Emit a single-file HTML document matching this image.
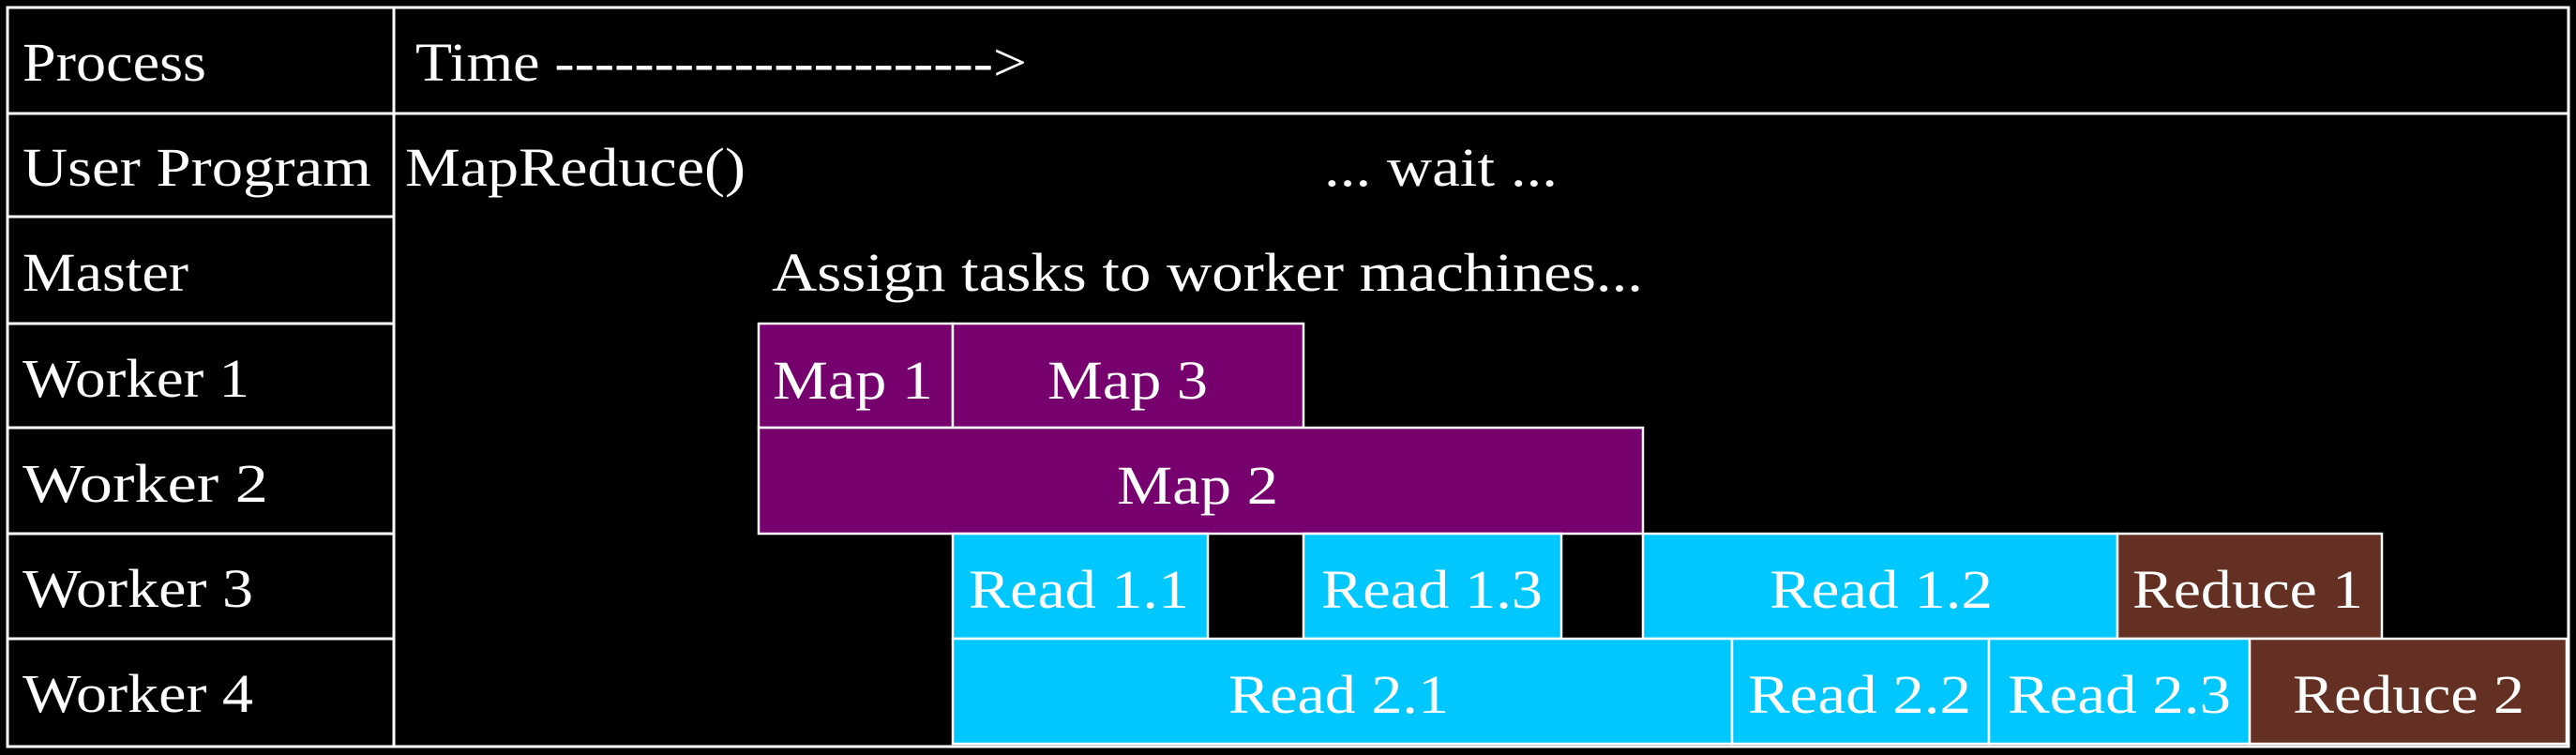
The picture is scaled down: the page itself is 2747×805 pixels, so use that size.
<!DOCTYPE html>
<html><head><meta charset="utf-8"><style>
html,body{margin:0;padding:0;background:#000;width:2747px;height:805px;overflow:hidden}
svg{display:block}
text{font-family:"Liberation Serif",serif;font-size:58px;fill:#fff}
</style></head><body>
<svg width="2747" height="805" viewBox="0 0 2747 805" xmlns="http://www.w3.org/2000/svg">
<rect x="0" y="0" width="2747" height="805" fill="#000"/>
<g stroke="#fff" stroke-width="3" fill="none">
<rect x="8" y="8" width="2731" height="788"/>
<line x1="420" y1="8" x2="420" y2="796"/>
<line x1="8" y1="121" x2="2739" y2="121"/>
<line x1="8" y1="231" x2="420" y2="231"/>
<line x1="8" y1="345" x2="420" y2="345"/>
<line x1="8" y1="456" x2="420" y2="456"/>
<line x1="8" y1="569" x2="420" y2="569"/>
<line x1="8" y1="681" x2="420" y2="681"/>
</g>
<g stroke="#fff" stroke-width="2.5">
<rect x="809" y="345" width="207" height="111" fill="#77006f"/>
<rect x="1016" y="345" width="374" height="111" fill="#77006f"/>
<rect x="809" y="456" width="943" height="113" fill="#77006f"/>
<rect x="1016" y="569" width="272" height="112" fill="#00c8ff"/>
<rect x="1390" y="569" width="275" height="112" fill="#00c8ff"/>
<rect x="1752" y="569" width="506" height="112" fill="#00c8ff"/>
<rect x="2258" y="569" width="282" height="112" fill="#633023"/>
<rect x="1016" y="681" width="831" height="112" fill="#00c8ff"/>
<rect x="1847" y="681" width="274" height="112" fill="#00c8ff"/>
<rect x="2121" y="681" width="278" height="112" fill="#00c8ff"/>
<rect x="2399" y="681" width="338" height="112" fill="#633023"/>
</g>
<g lengthAdjust="spacingAndGlyphs">
<text x="24" y="86" textLength="196" lengthAdjust="spacingAndGlyphs">Process</text>
<text x="443" y="86" textLength="652" lengthAdjust="spacingAndGlyphs">Time ----------------------&gt;</text>
<text x="24" y="198" textLength="372" lengthAdjust="spacingAndGlyphs">User Program</text>
<text x="432" y="198" textLength="363" lengthAdjust="spacingAndGlyphs">MapReduce()</text>
<text x="1412" y="198" textLength="249" lengthAdjust="spacingAndGlyphs">... wait ...</text>
<text x="24" y="310" textLength="177" lengthAdjust="spacingAndGlyphs">Master</text>
<text x="823" y="310" textLength="929" lengthAdjust="spacingAndGlyphs">Assign tasks to worker machines...</text>
<text x="24" y="423" textLength="242" lengthAdjust="spacingAndGlyphs">Worker 1</text>
<text x="24" y="535" textLength="262" lengthAdjust="spacingAndGlyphs">Worker 2</text>
<text x="24" y="647" textLength="246" lengthAdjust="spacingAndGlyphs">Worker 3</text>
<text x="24" y="759" textLength="246" lengthAdjust="spacingAndGlyphs">Worker 4</text>
<text x="824" y="425" textLength="171" lengthAdjust="spacingAndGlyphs">Map 1</text>
<text x="1117" y="425" textLength="171" lengthAdjust="spacingAndGlyphs">Map 3</text>
<text x="1191" y="537" textLength="172" lengthAdjust="spacingAndGlyphs">Map 2</text>
<text x="1033" y="648" textLength="235" lengthAdjust="spacingAndGlyphs">Read 1.1</text>
<text x="1409" y="648" textLength="236" lengthAdjust="spacingAndGlyphs">Read 1.3</text>
<text x="1887" y="648" textLength="238" lengthAdjust="spacingAndGlyphs">Read 1.2</text>
<text x="2274" y="648" textLength="246" lengthAdjust="spacingAndGlyphs">Reduce 1</text>
<text x="1310" y="760" textLength="235" lengthAdjust="spacingAndGlyphs">Read 2.1</text>
<text x="1864" y="760" textLength="238" lengthAdjust="spacingAndGlyphs">Read 2.2</text>
<text x="2141" y="760" textLength="238" lengthAdjust="spacingAndGlyphs">Read 2.3</text>
<text x="2445" y="760" textLength="247" lengthAdjust="spacingAndGlyphs">Reduce 2</text>
</g>
</svg>
</body></html>
